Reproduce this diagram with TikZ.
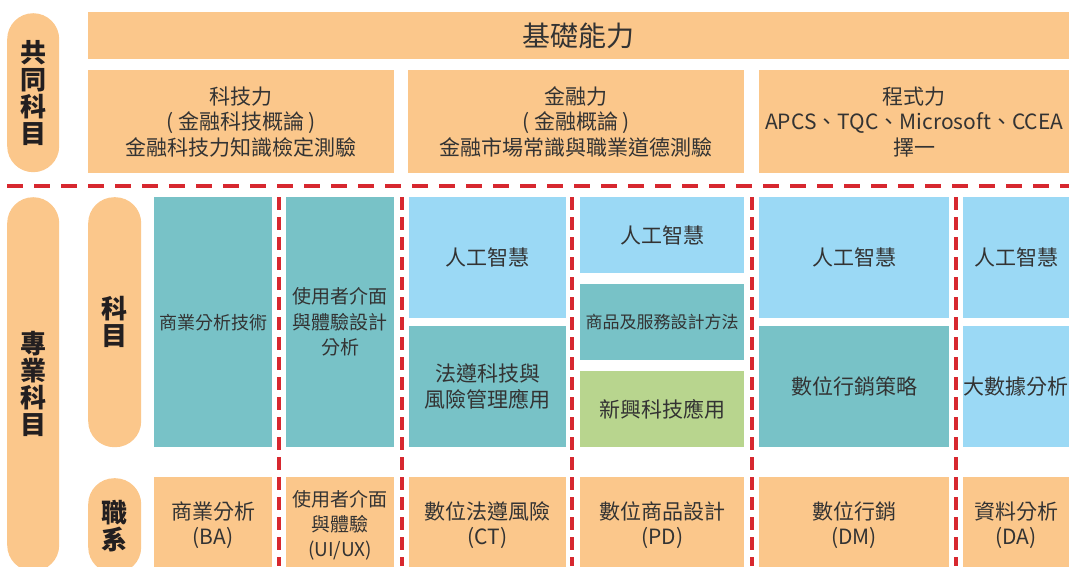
\documentclass[tikz,border=0pt]{standalone}
\usepackage{fontspec}
\newfontfamily\cjk{Noto Sans CJK TC}
\definecolor{orangefill}{HTML}{FBC78B}
\definecolor{tealfill}{HTML}{78C2C7}
\definecolor{bluefill}{HTML}{9BD9F5}
\definecolor{greenfill}{HTML}{B8D58E}
\definecolor{dashred}{HTML}{D7282F}
\definecolor{txtgray}{HTML}{333333}
\definecolor{txtdark}{HTML}{231F20}

\begin{document}
\begin{tikzpicture}[x=1pt, y=-1pt,
    cell/.style={anchor=north west, inner sep=0pt, align=center, text=txtgray,
        font=\cjk\fontsize{21}{25.5}\selectfont},
    pill/.style={anchor=north west, inner sep=0pt, fill=orangefill, rounded corners=26pt,
        align=center, text=txtdark, font=\cjk\bfseries\fontsize{26}{27}\selectfont},
    hsep/.style={dashred, line width=4.5pt, dash pattern=on 16pt off 11pt},
    vsep/.style={dashred, line width=4pt, dash pattern=on 13pt off 7pt}]
    \useasboundingbox (0,0) rectangle (1069,566);
    \clip (0,0) rectangle (1069,566);

    % Common subjects
    \node[pill, minimum width=52, minimum height=159] (common) at (7,13) {共\\同\\科\\目};
    \node[cell, fill=orangefill, minimum width=981, minimum height=47,
        font=\cjk\fontsize{28}{30}\selectfont] (basic) at (88,12) {基礎能力};
    \node[cell, fill=orangefill, minimum width=306, minimum height=103] (tech) at (88,70)
        {科技力\\( 金融科技概論 )\\金融科技力知識檢定測驗};
    \node[cell, fill=orangefill, minimum width=336, minimum height=103] (finance) at (408,70)
        {金融力\\( 金融概論 )\\金融市場常識與職業道德測驗};
    \node[cell, fill=orangefill, minimum width=310, minimum height=103] (coding) at (759,70)
        {程式力\\APCS、TQC、Microsoft、CCEA\\擇一};

    % Separators
    \draw[hsep] (7,186) -- (1069,186);
    \foreach \x in {279,402,572,752,956}
        \draw[vsep] (\x,197) -- (\x,566);

    % Major subjects
    \node[pill, minimum width=52, minimum height=374] (major) at (7,197) {專\\業\\科\\目};
    \node[pill, minimum width=53, minimum height=250] (subject) at (88,197) {科\\目};
    \node[pill, minimum width=53, minimum height=95] (dept) at (88,478) {職\\系};

    % Column BA
    \node[cell, fill=tealfill, minimum width=118, minimum height=250,
        font=\cjk\fontsize{18}{22}\selectfont] (ba-s) at (154,197) {商業分析技術};
    \node[cell, fill=orangefill, minimum width=118, minimum height=96] (ba) at (154,477)
        {商業分析\\(BA)};

    % Column UI/UX
    \node[cell, fill=tealfill, minimum width=108, minimum height=250,
        font=\cjk\fontsize{19}{25.5}\selectfont] (ux-s) at (286,197) {使用者介面\\與體驗設計\\分析};
    \node[cell, fill=orangefill, minimum width=108, minimum height=96,
        font=\cjk\fontsize{19}{25}\selectfont] (ux) at (286,477) {使用者介面\\與體驗\\(UI/UX)};

    % Column CT
    \node[cell, fill=bluefill, minimum width=157, minimum height=121] (ct-ai) at (409,197) {人工智慧};
    \node[cell, fill=tealfill, minimum width=157, minimum height=121] (ct-s) at (409,326)
        {法遵科技與\\風險管理應用};
    \node[cell, fill=orangefill, minimum width=157, minimum height=96] (ct) at (409,477)
        {數位法遵風險\\(CT)};

    % Column PD
    \node[cell, fill=bluefill, minimum width=164, minimum height=76] (pd-ai) at (580,197) {人工智慧};
    \node[cell, fill=tealfill, minimum width=164, minimum height=76,
        font=\cjk\fontsize{17}{20}\selectfont] (pd-s) at (580,284) {商品及服務設計方法};
    \node[cell, fill=greenfill, minimum width=164, minimum height=76] (pd-new) at (580,371) {新興科技應用};
    \node[cell, fill=orangefill, minimum width=164, minimum height=96] (pd) at (580,477)
        {數位商品設計\\(PD)};

    % Column DM
    \node[cell, fill=bluefill, minimum width=190, minimum height=121] (dm-ai) at (759,197) {人工智慧};
    \node[cell, fill=tealfill, minimum width=190, minimum height=121] (dm-s) at (759,326) {數位行銷策略};
    \node[cell, fill=orangefill, minimum width=190, minimum height=96] (dm) at (759,477)
        {數位行銷\\(DM)};

    % Column DA
    \node[cell, fill=bluefill, minimum width=106, minimum height=121] (da-ai) at (963,197) {人工智慧};
    \node[cell, fill=bluefill, minimum width=106, minimum height=121] (da-s) at (963,326) {大數據分析};
    \node[cell, fill=orangefill, minimum width=106, minimum height=96] (da) at (963,477)
        {資料分析\\(DA)};
\end{tikzpicture}
\end{document}
